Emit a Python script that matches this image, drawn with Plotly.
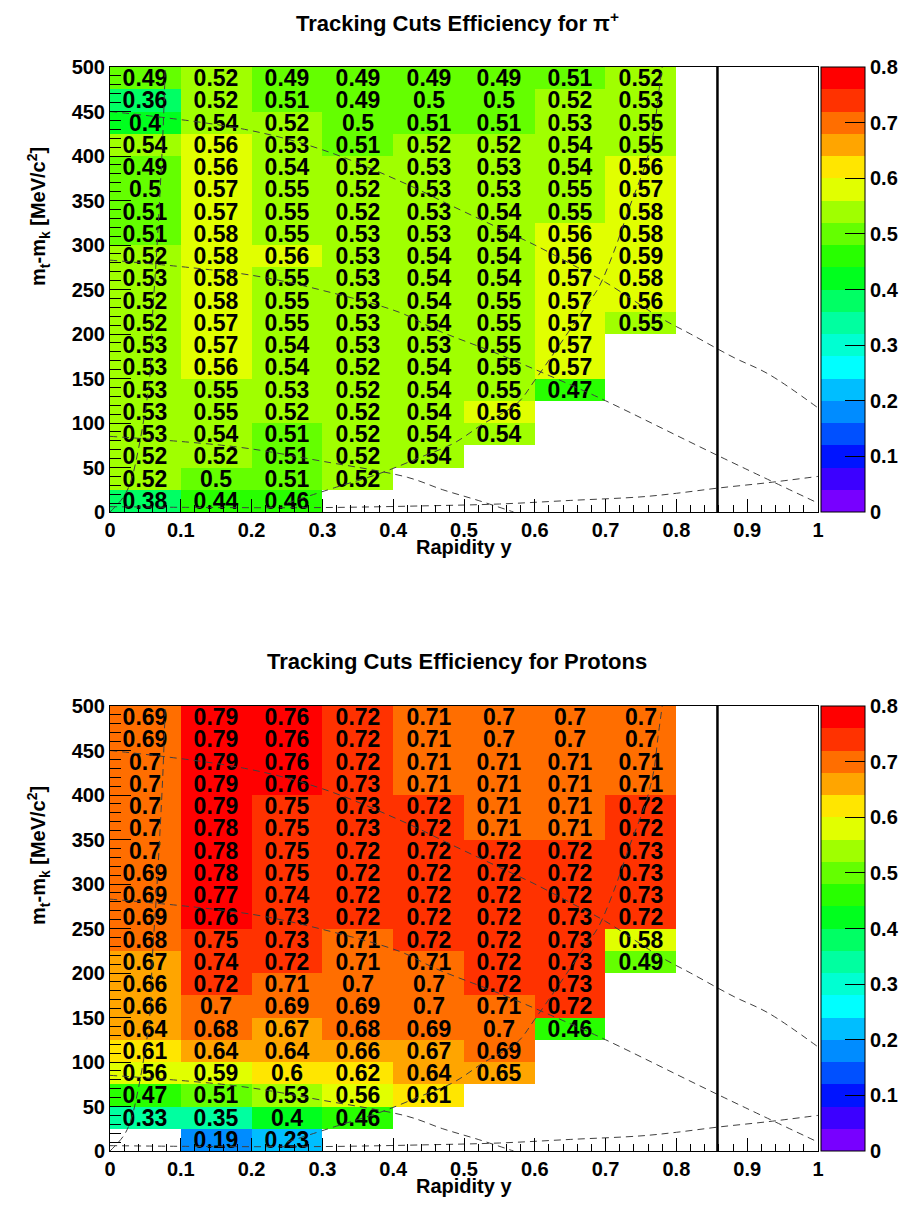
import plotly.graph_objects as go

# ---------------- data ----------------
rapidity_centers = [0.05, 0.15, 0.25, 0.35, 0.45, 0.55, 0.65, 0.75]
mass_centers = [12.5 + 25 * i for i in range(20)]  # 0..500 in 25 MeV bins

# rows listed from top (475-500) down to bottom (0-25)
pion_rows = [
    [0.49, 0.52, 0.49, 0.49, 0.49, 0.49, 0.51, 0.52],
    [0.36, 0.52, 0.51, 0.49, 0.5, 0.5, 0.52, 0.53],
    [0.4, 0.54, 0.52, 0.5, 0.51, 0.51, 0.53, 0.55],
    [0.54, 0.56, 0.53, 0.51, 0.52, 0.52, 0.54, 0.55],
    [0.49, 0.56, 0.54, 0.52, 0.53, 0.53, 0.54, 0.56],
    [0.5, 0.57, 0.55, 0.52, 0.53, 0.53, 0.55, 0.57],
    [0.51, 0.57, 0.55, 0.52, 0.53, 0.54, 0.55, 0.58],
    [0.51, 0.58, 0.55, 0.53, 0.53, 0.54, 0.56, 0.58],
    [0.52, 0.58, 0.56, 0.53, 0.54, 0.54, 0.56, 0.59],
    [0.53, 0.58, 0.55, 0.53, 0.54, 0.54, 0.57, 0.58],
    [0.52, 0.58, 0.55, 0.53, 0.54, 0.55, 0.57, 0.56],
    [0.52, 0.57, 0.55, 0.53, 0.54, 0.55, 0.57, 0.55],
    [0.53, 0.57, 0.54, 0.53, 0.53, 0.55, 0.57, None],
    [0.53, 0.56, 0.54, 0.52, 0.54, 0.55, 0.57, None],
    [0.53, 0.55, 0.53, 0.52, 0.54, 0.55, 0.47, None],
    [0.53, 0.55, 0.52, 0.52, 0.54, 0.56, None, None],
    [0.53, 0.54, 0.51, 0.52, 0.54, 0.54, None, None],
    [0.52, 0.52, 0.51, 0.52, 0.54, None, None, None],
    [0.52, 0.5, 0.51, 0.52, None, None, None, None],
    [0.38, 0.44, 0.46, None, None, None, None, None],
]

proton_rows = [
    [0.69, 0.79, 0.76, 0.72, 0.71, 0.7, 0.7, 0.7],
    [0.69, 0.79, 0.76, 0.72, 0.71, 0.7, 0.7, 0.7],
    [0.7, 0.79, 0.76, 0.72, 0.71, 0.71, 0.71, 0.71],
    [0.7, 0.79, 0.76, 0.73, 0.71, 0.71, 0.71, 0.71],
    [0.7, 0.79, 0.75, 0.73, 0.72, 0.71, 0.71, 0.72],
    [0.7, 0.78, 0.75, 0.73, 0.72, 0.71, 0.71, 0.72],
    [0.7, 0.78, 0.75, 0.72, 0.72, 0.72, 0.72, 0.73],
    [0.69, 0.78, 0.75, 0.72, 0.72, 0.72, 0.72, 0.73],
    [0.69, 0.77, 0.74, 0.72, 0.72, 0.72, 0.72, 0.73],
    [0.69, 0.76, 0.73, 0.72, 0.72, 0.72, 0.73, 0.72],
    [0.68, 0.75, 0.73, 0.71, 0.72, 0.72, 0.73, 0.58],
    [0.67, 0.74, 0.72, 0.71, 0.71, 0.72, 0.73, 0.49],
    [0.66, 0.72, 0.71, 0.7, 0.7, 0.72, 0.73, None],
    [0.66, 0.7, 0.69, 0.69, 0.7, 0.71, 0.72, None],
    [0.64, 0.68, 0.67, 0.68, 0.69, 0.7, 0.46, None],
    [0.61, 0.64, 0.64, 0.66, 0.67, 0.69, None, None],
    [0.56, 0.59, 0.6, 0.62, 0.64, 0.65, None, None],
    [0.47, 0.51, 0.53, 0.56, 0.61, None, None, None],
    [0.33, 0.35, 0.4, 0.46, None, None, None, None],
    [None, 0.19, 0.23, None, None, None, None, None],
]

titles = ["Tracking Cuts Efficiency for π<sup>+</sup>",
          "Tracking Cuts Efficiency for Protons"]
x_title = "Rapidity y"
y_title = "m<sub>t</sub>-m<sub>k</sub> [MeV/c<sup>2</sup>]"
cbar_ticks = [0, 0.1, 0.2, 0.3, 0.4, 0.5, 0.6, 0.7, 0.8]
cbar_labels = ["0", "0.1", "0.2", "0.3", "0.4", "0.5", "0.6", "0.7", "0.8"]

# mid-rapidity marker
y_cm = 0.858

# overlay dashed acceptance curves (rapidity, mt-m0)
curve_a_y = [0.0, 0.19, 0.30, 0.42, 0.48, 0.56, 0.60, 0.66, 0.70, 0.78, 0.82, 0.88, 0.93, 1.0]
curve_a_m = [450, 430, 407, 368, 345, 315, 300, 275, 258, 217, 200, 174, 155, 117]
curve_b_y = [0.0, 0.18, 0.30, 0.42, 0.47, 0.52, 0.57]
curve_b_m = [85, 73, 57, 39, 25, 13, 0]
curve_c_y = [0.0, 0.20, 0.315, 0.41, 0.46, 0.55, 0.65, 0.70, 0.857, 1.0]
curve_c_m = [283, 266, 246, 224, 205, 177, 143, 125, 64, 10]
curve_d_y = [0.0, 0.15, 0.30, 0.45, 0.55, 0.65, 0.75, 0.80, 0.86, 0.93, 1.0]
curve_d_m = [6, 5, 5, 7, 9, 13, 17, 21, 27, 33, 40]
curve_e_y = [0.25, 0.32, 0.38, 0.44, 0.485, 0.527, 0.575, 0.60, 0.673, 0.69, 0.711, 0.734, 0.757, 0.768, 0.774, 0.78]
curve_e_m = [10, 28, 43, 62, 77, 99, 122, 148, 232, 252, 291, 343, 392, 427, 465, 500]
curve_f_y = [0.0, 0.02, 0.03, 0.04, 0.05, 0.056, 0.06, 0.065, 0.07, 0.075, 0.078]
curve_f_m = [0, 18, 36, 70, 115, 150, 220, 280, 350, 430, 500]
curves = [(curve_a_y, curve_a_m), (curve_b_y, curve_b_m), (curve_c_y, curve_c_m),
          (curve_d_y, curve_d_m), (curve_e_y, curve_e_m), (curve_f_y, curve_f_m)]

# ROOT-like 20-step palette from 0 to 0.8
palette = [
    "rgb(120,0,255)", "rgb(60,0,255)", "rgb(0,20,255)", "rgb(0,80,255)",
    "rgb(0,140,255)", "rgb(0,190,255)", "rgb(0,255,255)", "rgb(0,255,210)",
    "rgb(0,255,160)", "rgb(0,255,100)", "rgb(0,255,30)", "rgb(40,255,0)",
    "rgb(100,255,0)", "rgb(160,255,0)", "rgb(225,255,0)", "rgb(255,230,0)",
    "rgb(255,165,0)", "rgb(255,110,0)", "rgb(255,50,0)", "rgb(255,0,0)",
]

# ---------------- layout geometry ----------------
# page body has an 8px margin, so the figure is offset by OFF in the screenshot
OFF = 8
W, H = 907 - 2 * OFF, 1207 - 2 * OFF
ML, MT = 110 - OFF, 67 - OFF
PW = 708
MR = W - ML - PW
MB = H - (1151 - OFF)
PH = H - MT - MB
PANEL_H = 445


def px_x(p):  # screenshot pixel -> paper fraction
    return (p - OFF - ML) / PW


def px_y(p):
    return (H - MB - (p - OFF)) / PH


eps = 1e-4
n = len(palette)
cscale = []
for k, c in enumerate(palette):
    lo = 0.0 if k == 0 else k / n - eps
    hi = 1.0 if k == n - 1 else (k + 1) / n - eps
    cscale.append([lo, c])
    cscale.append([hi, c])

FONT = "Liberation Sans"
domains = [[1 - PANEL_H / PH, 1.0], [0.0, PANEL_H / PH]]
panel_tops = [67, 706]  # screenshot pixels

fig = go.Figure()
annotations = []

for i, rows in enumerate([pion_rows, proton_rows]):
    z = rows[::-1]
    txt = [["" if v is None else f"{v:.2g}" for v in r] for r in z]
    dom = domains[i]
    xa = "x" if i == 0 else "x2"
    ya = "y" if i == 0 else "y2"
    fig.add_trace(go.Heatmap(
        x=rapidity_centers, y=mass_centers, z=z, text=txt,
        texttemplate="%{text}",
        textfont=dict(family=FONT, size=23, color="black", weight="bold"),
        colorscale=cscale, zmin=0, zmax=0.8, xaxis=xa, yaxis=ya,
        hoverongaps=False, showscale=True,
        colorbar=dict(x=1 + 3 / PW, xanchor="left", xpad=0,
                      y=dom[1], yanchor="top", ypad=0,
                      len=dom[1] - dom[0], lenmode="fraction",
                      thickness=44, thicknessmode="pixels",
                      outlinewidth=1, outlinecolor="black",
                      tickvals=cbar_ticks, ticktext=cbar_labels,
                      ticks="inside", ticklen=20, tickcolor="black", tickwidth=1,
                      tickfont=dict(family=FONT, size=20, color="black", weight="bold")),
    ))
    for cy, cm in curves:
        fig.add_trace(go.Scatter(x=cy, y=cm, mode="lines", xaxis=xa, yaxis=ya,
                                 line=dict(color="#404040", width=1, dash="7px,5px", shape="spline"),
                                 showlegend=False, hoverinfo="skip"))
    fig.add_trace(go.Scatter(x=[y_cm, y_cm], y=[0, 500], mode="lines", xaxis=xa, yaxis=ya,
                             line=dict(color="black", width=2.5), showlegend=False, hoverinfo="skip"))

    axis_common = dict(showline=True, linecolor="black", linewidth=1, mirror=True,
                       showgrid=False, zeroline=False, ticks="inside", tickcolor="black",
                       tickwidth=1, automargin=False,
                       tickfont=dict(family=FONT, size=20, color="black", weight="bold"))
    xkey = "xaxis" if i == 0 else "xaxis2"
    ykey = "yaxis" if i == 0 else "yaxis2"
    fig.update_layout(**{
        xkey: dict(domain=[0, 1], range=[0, 1], anchor=ya, tick0=0, dtick=0.1, ticklen=13,
                   minor=dict(dtick=0.02, ticks="inside", ticklen=7, tickcolor="black", showgrid=False),
                   **axis_common),
        ykey: dict(domain=dom, range=[0, 500], anchor=xa, tick0=0, dtick=50, ticklen=21,
                   minor=dict(dtick=10, ticks="inside", ticklen=11, tickcolor="black", showgrid=False),
                   **axis_common),
    })

    top_px = panel_tops[i]
    bot_px = top_px + PANEL_H
    annotations.append(dict(text=titles[i], x=px_x(457), y=px_y(top_px - 45),
                            xref="paper", yref="paper", xanchor="center", yanchor="middle",
                            showarrow=False,
                            font=dict(family=FONT, size=22, color="black", weight="bold")))
    annotations.append(dict(text=x_title, x=0.5, y=px_y(bot_px + 35),
                            xref="paper", yref="paper", xanchor="center", yanchor="middle",
                            showarrow=False,
                            font=dict(family=FONT, size=20, color="black", weight="bold")))
    annotations.append(dict(text=y_title, x=px_x(38), y=px_y(top_px + 150),
                            xref="paper", yref="paper", xanchor="center", yanchor="middle",
                            textangle=-90, showarrow=False,
                            font=dict(family=FONT, size=20, color="black", weight="bold")))

fig.update_layout(width=W, height=H, autosize=False,
                  margin=dict(l=ML, r=MR, t=MT, b=MB, pad=0, autoexpand=False),
                  paper_bgcolor="white", plot_bgcolor="white",
                  showlegend=False, annotations=annotations)

fig.write_html("out.html", config={"responsive": False})
